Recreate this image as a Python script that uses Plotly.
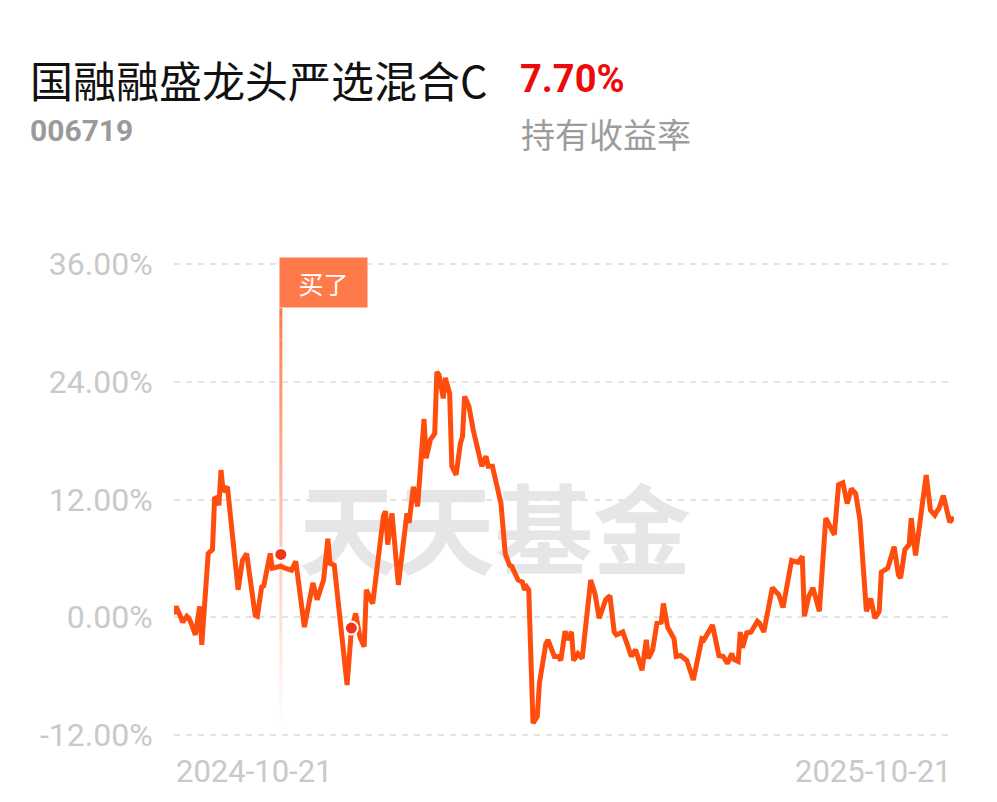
import pandas as pd
import plotly.graph_objects as go

# ---- data ----
fund_name = "国融融盛龙头严选混合C"
fund_code = "006719"
holding_return = "7.70%"
start_date = "2024-10-21"
end_date = "2025-10-21"

# days after start_date
day_offset = [0, 1, 3, 4, 6, 7, 8, 10, 12, 13,
              16, 18, 19, 20, 21, 22, 23, 25, 30, 32,
              34, 38, 39, 41, 42, 45, 46, 50, 52, 55,
              57, 61, 65, 67, 70, 72, 73, 75, 81, 83,
              85, 87, 89, 90, 92, 93, 98, 99, 100, 102,
              105, 109, 110, 112, 114, 117, 118, 120, 122, 123,
              124, 126, 127, 129, 130, 132, 134, 135, 136, 138,
              140, 142, 144, 146, 147, 149, 153, 155, 157, 158,
              161, 163, 164, 165, 166, 168, 170, 171, 174, 175,
              178, 180, 181, 183, 184, 186, 187, 189, 191, 195,
              197, 199, 202, 204, 206, 207, 210, 212, 214, 216,
              219, 221, 222, 224, 226, 228, 229, 231, 234, 235,
              237, 240, 243, 247, 248, 252, 255, 257, 259, 261,
              262, 264, 265, 266, 268, 270, 273, 274, 276, 280,
              283, 285, 289, 292, 294, 295, 297, 299, 302, 305,
              306, 309, 311, 313, 315, 317, 319, 321, 324, 326,
              328, 330, 331, 334, 337, 339, 340, 342, 344, 345,
              347, 351, 352, 354, 356, 357, 358, 360, 362, 363,
              365]

# holding return in %
return_pct = [0.3, 1.1, 0.1, -0.5, 0.1, -0.1, -0.6, -1.8, 1.1, -2.8,
              6.5, 6.9, 12.1, 12.2, 11.4, 15.0, 12.8, 13.3, 2.8, 5.8,
              6.5, 0.2, 0.1, 3.1, 3.2, 6.5, 5.0, 5.2, 5.0, 4.8,
              5.7, -1.0, 3.5, 1.8, 3.8, 8.0, 5.5, 5.3, -6.9, -1.3,
              0.4, -2.0, -3.0, 2.8, 1.8, 1.4, 10.3, 10.8, 7.4, 10.6,
              3.3, 10.6, 9.6, 13.3, 11.3, 20.2, 16.2, 18.1, 18.7, 25.0,
              24.7, 22.3, 24.4, 22.8, 15.4, 14.5, 17.7, 18.4, 22.5, 21.5,
              19.1, 17.4, 15.4, 16.4, 15.4, 15.4, 11.6, 6.5, 5.3, 5.2,
              3.8, 3.6, 2.8, 3.1, 2.8, -10.8, -10.1, -6.7, -2.7, -2.3,
              -4.0, -4.0, -4.4, -1.4, -2.3, -1.5, -4.4, -3.7, -4.2, 3.8,
              2.4, -0.1, 1.8, 2.2, -1.5, -1.8, -1.5, -2.7, -4.0, -3.3,
              -5.4, -2.3, -4.2, -3.3, -0.6, -0.5, 1.4, -1.0, -2.2, -4.0,
              -3.9, -4.4, -6.4, -2.2, -2.3, -0.8, -3.9, -4.0, -4.7, -3.7,
              -4.3, -4.5, -1.5, -3.1, -1.6, -1.5, -0.4, -0.6, -1.5, 3.0,
              2.3, 1.0, 5.8, 5.6, 6.2, 0.1, 2.1, 3.0, 0.6, 10.1,
              9.6, 8.4, 13.5, 13.7, 11.6, 13.1, 12.6, 9.9, 0.6, 1.9,
              -0.1, 0.6, 4.6, 5.0, 7.2, 4.3, 4.0, 6.9, 7.4, 10.1,
              6.3, 13.3, 14.5, 10.9, 10.4, 10.8, 11.1, 12.4, 10.3, 9.7,
              10.2]

# trade dots (buy day first)
dot_days = [50, 83]
dot_returns = [6.4, -1.1]
buy_label = "买了"
buy_label_y = 34.1
buy_line_top = 31.5
buy_line_bottom = -11.0

y_ticks = [-12, 0, 12, 24, 36]
y_range = [-12.3, 36.3]

# ---- layout geometry (pixels) ----
W_FIG, H_FIG = 997, 802
M_L, M_R, M_T, M_B = 174, 43, 261, 64
PLOT_W = W_FIG - M_L - M_R
PLOT_H = H_FIG - M_T - M_B


def px(x):
    return (x - M_L) / PLOT_W


def py(y):
    return (H_FIG - M_B - y) / PLOT_H


t0 = pd.Timestamp(start_date)
dates = t0 + pd.to_timedelta(day_offset, unit="D")
dot_dates = t0 + pd.to_timedelta(dot_days, unit="D")
buy_date = dot_dates[0]

LINE = "#ff4d0d"
CORAL = (255, 122, 74)
TICK_GRAY = "#c9c9c9"

fig = go.Figure()

fig.add_trace(go.Scatter(
    x=dates, y=return_pct,
    mode="lines",
    line=dict(color=LINE, width=5),
    hoverinfo="skip",
))

fig.add_trace(go.Scatter(
    x=dot_dates, y=dot_returns,
    mode="markers",
    marker=dict(size=13, color="#f3341c", line=dict(color="white", width=2)),
    hoverinfo="skip",
))

# fading vertical "buy" line, drawn as stacked segments
n_seg = 40
step = (buy_line_top - buy_line_bottom) / n_seg
for i in range(n_seg):
    t = i / n_seg
    a = max(0.0, (1 - t) ** 1.1)
    fig.add_shape(
        type="line", xref="x", yref="y",
        x0=buy_date, x1=buy_date,
        y0=buy_line_top - i * step, y1=buy_line_top - (i + 1) * step,
        line=dict(color=f"rgba({CORAL[0]},{CORAL[1]},{CORAL[2]},{a:.3f})", width=3),
        layer="below",
    )

# watermark
fig.add_shape(
    type="rect", xref="paper", yref="paper",
    x0=px(300), x1=px(690), y0=py(592), y1=py(488),
    line=dict(width=0), fillcolor="rgba(0,0,0,0)",
    layer="below",
    label=dict(text="天天基金", textposition="middle center",
               font=dict(family="Noto Sans CJK SC", size=98, color="#e6e6e6", weight=700)),
)

annotations = [
    dict(text=fund_name, x=px(28), y=py(79), xanchor="left", yanchor="middle",
         font=dict(family="Noto Sans CJK SC", size=43, color="#111111")),
    dict(text=f"<b>{holding_return}</b>", x=px(518), y=py(79), xanchor="left", yanchor="middle",
         font=dict(family="Roboto", size=38, color="#ee0a0a")),
    dict(text=f"<b>{fund_code}</b>", x=px(28), y=py(131), xanchor="left", yanchor="middle",
         font=dict(family="Roboto", size=30, color="#9a9a9a")),
    dict(text="持有收益率", x=px(519), y=py(134), xanchor="left", yanchor="middle",
         font=dict(family="Noto Sans CJK SC", size=34, color="#9c9c9c")),
    dict(text=start_date, x=0, y=py(771), xanchor="left", yanchor="middle",
         font=dict(family="Roboto", size=31, color=TICK_GRAY)),
    dict(text=end_date, x=1, y=py(771), xanchor="right", yanchor="middle",
         font=dict(family="Roboto", size=31, color=TICK_GRAY)),
    dict(text=buy_label, x=buy_date, y=buy_label_y, xref="x", yref="y",
         xanchor="left", yanchor="middle", xshift=-2,
         bgcolor=f"rgb({CORAL[0]},{CORAL[1]},{CORAL[2]})", width=83, height=45, borderpad=2,
         font=dict(family="Noto Sans CJK SC", size=25, color="white")),
]
for a in annotations:
    a.setdefault("xref", "paper")
    a.setdefault("yref", "paper")
    a["showarrow"] = False

fig.update_layout(
    width=W_FIG, height=H_FIG,
    margin=dict(l=M_L, r=M_R, t=M_T, b=M_B),
    paper_bgcolor="white", plot_bgcolor="white",
    showlegend=False,
    hovermode=False,
    annotations=annotations,
    xaxis=dict(
        type="date",
        range=[start_date, end_date],
        showgrid=False, zeroline=False, showline=False,
        showticklabels=False, ticks="",
    ),
    yaxis=dict(
        range=y_range,
        tickvals=y_ticks,
        ticktext=[f"{v:.2f}%" for v in y_ticks],
        showgrid=True, gridcolor="#e3e3e3", gridwidth=1.5, griddash="6px,6px",
        zeroline=False, showline=False,
        ticks="outside", ticklen=14, tickcolor="rgba(0,0,0,0)",
        tickfont=dict(family="Roboto", size=32, color=TICK_GRAY),
    ),
)

fig.write_html("out.html", config={"displayModeBar": False},
               post_script="document.body.style.margin='0px';")
